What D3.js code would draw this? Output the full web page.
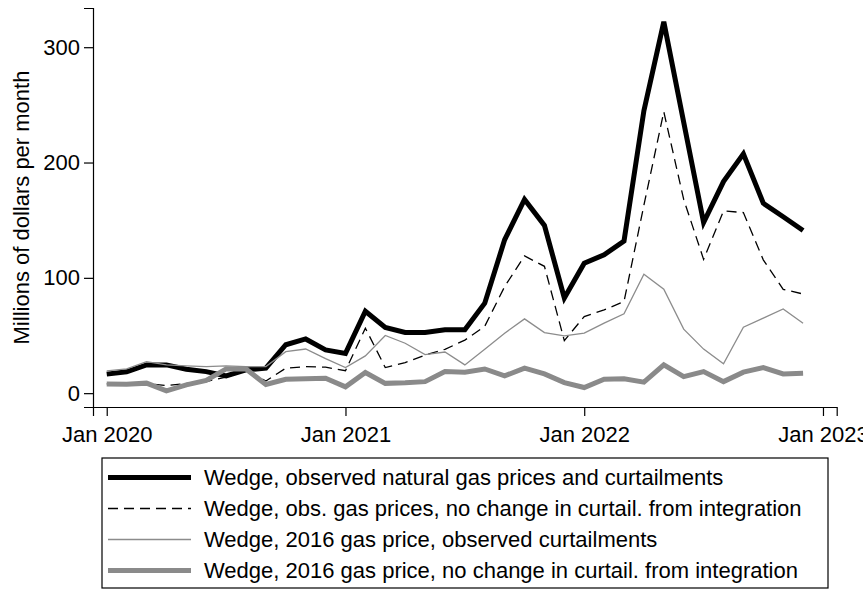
<!DOCTYPE html>
<html>
<head>
<meta charset="utf-8">
<script src="https://cdn.jsdelivr.net/npm/d3@7"></script>
<style>
  body { margin: 0; background: #fff; }
  svg { display: block; font-family: "Liberation Sans", Arial, sans-serif; }
</style>
</head>
<body>
<script>
// monthly values, Jan 2020 .. Dec 2022 (millions of dollars per month)
var observed = [16.5, 18.5, 24.5, 24.5, 20.8, 18.7, 15, 20.2, 21.7, 42, 47, 37.5,
                34.5, 71, 57, 52.6, 52.6, 55, 55, 78, 133, 168, 145.5, 82.5,
                112.7, 120, 132, 245, 322, 235, 148, 183.5, 207.5, 164.7, 153, 141];
var obsNoChange = [8, 8, 8.5, 6.5, 8.5, 10, 14, 20, 10.5, 21.7, 23, 22.5,
                   19.5, 56.4, 22.2, 26.5, 33, 38, 46, 58, 92.4, 119, 110, 45.6,
                   66.4, 72.2, 79.4, 163, 244, 168, 116, 158, 156.6, 115.6, 90, 86];
var price2016 = [19.3, 21, 27.4, 24.5, 23.7, 23, 23.7, 23, 23, 36, 38.3, 30,
                 22.2, 32.3, 50, 43.3, 33.5, 35.7, 24.5, 38, 52, 64.4, 52.5, 49.7,
                 52, 60.7, 68.8, 103.2, 90.2, 55.5, 38.2, 25.4, 57.2, 65, 73, 60.7];
var price2016NoChange = [8, 7.8, 8.7, 2, 7.2, 11, 21, 21, 7.5, 12, 12.5, 13,
                         5.5, 17.9, 8.5, 9, 10, 18.7, 18.2, 21, 15, 21.7, 16.7, 9.2,
                         4.9, 12.1, 12.4, 9.5, 24.5, 14.4, 18.7, 10, 18.2, 22.2, 16.7, 17.3];

var xTicks = [0, 12, 24, 36];
var xTickLabels = ["Jan 2020", "Jan 2021", "Jan 2022", "Jan 2023"];
var yTicks = [0, 100, 200, 300];
var seriesNames = [
  "Wedge, observed natural gas prices and curtailments",
  "Wedge, obs. gas prices, no change in curtail. from integration",
  "Wedge, 2016 gas price, observed curtailments",
  "Wedge, 2016 gas price, no change in curtail. from integration"
];

var width = 863, height = 590;

var series = [
  {name: seriesNames[0], values: observed, color: "#000", width: 5, dash: null},
  {name: seriesNames[1], values: obsNoChange, color: "#000", width: 1.3, dash: "10,6"},
  {name: seriesNames[2], values: price2016, color: "#8c8c8c", width: 1.3, dash: null},
  {name: seriesNames[3], values: price2016NoChange, color: "#8a8a8a", width: 5, dash: null}
];

var x = d3.scaleLinear().domain([-0.69, 36.69]).range([93, 836.7]);
var y = d3.scaleLinear().domain([-12, 334]).range([407, 8]);

var svg = d3.select("body").append("svg")
    .attr("width", width)
    .attr("height", height);

var line = d3.line()
    .x(function(d, i) { return x(i); })
    .y(function(d) { return y(d); });

svg.selectAll(".series")
    .data(series)
  .enter().append("path")
    .attr("class", "series")
    .attr("d", function(d) { return line(d.values); })
    .attr("fill", "none")
    .attr("stroke", function(d) { return d.color; })
    .attr("stroke-width", function(d) { return d.width; })
    .attr("stroke-dasharray", function(d) { return d.dash; });

// axes
svg.append("g")
    .attr("transform", "translate(0,407)")
    .call(d3.axisBottom(x)
      .tickValues(xTicks)
      .tickSizeOuter(0)
      .tickSize(9)
      .tickPadding(10)
      .tickFormat(function(d, i) { return xTickLabels[i]; }));

svg.append("g")
    .attr("transform", "translate(93,0)")
    .call(d3.axisLeft(y)
      .tickValues(yTicks)
      .tickSizeOuter(0)
      .tickSize(9)
      .tickPadding(4));

svg.selectAll(".tick text")
    .attr("font-size", "22px")
    .attr("font-family", "Liberation Sans, Arial, sans-serif")
    .attr("fill", "#000");
svg.selectAll(".domain, .tick line").attr("stroke", "#000").attr("stroke-width", 1.2);

svg.append("text")
    .attr("transform", "translate(29," + ((8 + 407) / 2) + ") rotate(-90)")
    .attr("text-anchor", "middle")
    .attr("font-size", "22px")
    .text("Millions of dollars per month");

// legend
var legend = svg.append("g");
legend.append("rect")
    .attr("x", 102)
    .attr("y", 458)
    .attr("width", 726)
    .attr("height", 130)
    .attr("fill", "#fff")
    .attr("stroke", "#000")
    .attr("stroke-width", 1.2);

var rows = legend.selectAll(".legend")
    .data(series)
  .enter().append("g")
    .attr("class", "legend")
    .attr("transform", function(d, i) { return "translate(0," + (477.5 + i * 31) + ")"; });

rows.append("line")
    .attr("x1", 108)
    .attr("x2", 191)
    .attr("stroke", function(d) { return d.color; })
    .attr("stroke-width", function(d) { return d.width; })
    .attr("stroke-dasharray", function(d) { return d.dash; });

rows.append("text")
    .attr("x", 204)
    .attr("dy", "0.35em")
    .attr("font-size", "22px")
    .attr("textLength", null)
    .text(function(d) { return d.name; });
</script>
</body>
</html>
